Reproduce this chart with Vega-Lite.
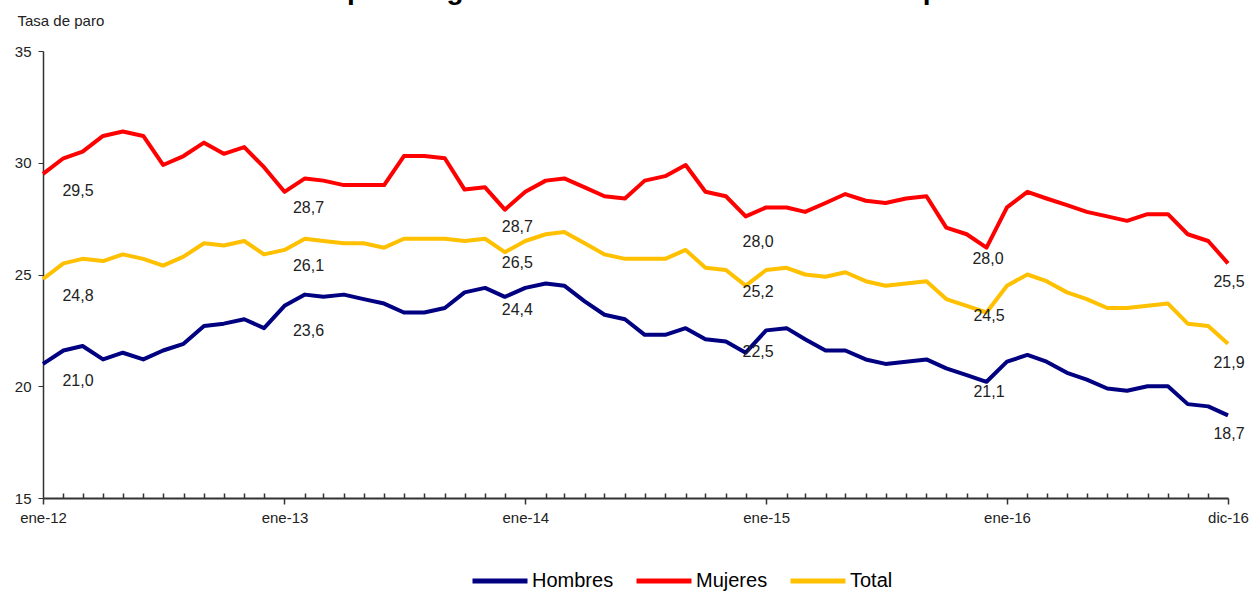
{
  "$schema": "https://vega.github.io/schema/vega-lite/v6.json",
  "width": 1185,
  "height": 447,
  "autosize": "none",
  "padding": {"left": 43, "top": 51, "right": 25, "bottom": 96},
  "background": "white",
  "config": {
    "view": {"stroke": null},
    "font": "Liberation Sans",
    "locale": {"number": {"decimal": ",", "thousands": ".", "grouping": [3], "currency": ["", " €"]}}
  },
  "title": {
    "text": "Tasa de paro según sexo. Evolución mensual en España",
    "anchor": "start",
    "frame": "group",
    "dx": 194,
    "fontSize": 28,
    "fontWeight": "bold",
    "font": "Liberation Sans",
    "color": "#000000",
    "offset": 8
  },
  "data": {
    "format": {"parse": {"fecha": "date"}},
    "values": [
      {"fecha": "2012-01-01", "serie": "Hombres", "tasa": 21.0},
      {"fecha": "2012-02-01", "serie": "Hombres", "tasa": 21.6},
      {"fecha": "2012-03-01", "serie": "Hombres", "tasa": 21.8},
      {"fecha": "2012-04-01", "serie": "Hombres", "tasa": 21.2},
      {"fecha": "2012-05-01", "serie": "Hombres", "tasa": 21.5},
      {"fecha": "2012-06-01", "serie": "Hombres", "tasa": 21.2},
      {"fecha": "2012-07-01", "serie": "Hombres", "tasa": 21.6},
      {"fecha": "2012-08-01", "serie": "Hombres", "tasa": 21.9},
      {"fecha": "2012-09-01", "serie": "Hombres", "tasa": 22.7},
      {"fecha": "2012-10-01", "serie": "Hombres", "tasa": 22.8},
      {"fecha": "2012-11-01", "serie": "Hombres", "tasa": 23.0},
      {"fecha": "2012-12-01", "serie": "Hombres", "tasa": 22.6},
      {"fecha": "2013-01-01", "serie": "Hombres", "tasa": 23.6},
      {"fecha": "2013-02-01", "serie": "Hombres", "tasa": 24.1},
      {"fecha": "2013-03-01", "serie": "Hombres", "tasa": 24.0},
      {"fecha": "2013-04-01", "serie": "Hombres", "tasa": 24.1},
      {"fecha": "2013-05-01", "serie": "Hombres", "tasa": 23.9},
      {"fecha": "2013-06-01", "serie": "Hombres", "tasa": 23.7},
      {"fecha": "2013-07-01", "serie": "Hombres", "tasa": 23.3},
      {"fecha": "2013-08-01", "serie": "Hombres", "tasa": 23.3},
      {"fecha": "2013-09-01", "serie": "Hombres", "tasa": 23.5},
      {"fecha": "2013-10-01", "serie": "Hombres", "tasa": 24.2},
      {"fecha": "2013-11-01", "serie": "Hombres", "tasa": 24.4},
      {"fecha": "2013-12-01", "serie": "Hombres", "tasa": 24.0},
      {"fecha": "2014-01-01", "serie": "Hombres", "tasa": 24.4},
      {"fecha": "2014-02-01", "serie": "Hombres", "tasa": 24.6},
      {"fecha": "2014-03-01", "serie": "Hombres", "tasa": 24.5},
      {"fecha": "2014-04-01", "serie": "Hombres", "tasa": 23.8},
      {"fecha": "2014-05-01", "serie": "Hombres", "tasa": 23.2},
      {"fecha": "2014-06-01", "serie": "Hombres", "tasa": 23.0},
      {"fecha": "2014-07-01", "serie": "Hombres", "tasa": 22.3},
      {"fecha": "2014-08-01", "serie": "Hombres", "tasa": 22.3},
      {"fecha": "2014-09-01", "serie": "Hombres", "tasa": 22.6},
      {"fecha": "2014-10-01", "serie": "Hombres", "tasa": 22.1},
      {"fecha": "2014-11-01", "serie": "Hombres", "tasa": 22.0},
      {"fecha": "2014-12-01", "serie": "Hombres", "tasa": 21.5},
      {"fecha": "2015-01-01", "serie": "Hombres", "tasa": 22.5},
      {"fecha": "2015-02-01", "serie": "Hombres", "tasa": 22.6},
      {"fecha": "2015-03-01", "serie": "Hombres", "tasa": 22.1},
      {"fecha": "2015-04-01", "serie": "Hombres", "tasa": 21.6},
      {"fecha": "2015-05-01", "serie": "Hombres", "tasa": 21.6},
      {"fecha": "2015-06-01", "serie": "Hombres", "tasa": 21.2},
      {"fecha": "2015-07-01", "serie": "Hombres", "tasa": 21.0},
      {"fecha": "2015-08-01", "serie": "Hombres", "tasa": 21.1},
      {"fecha": "2015-09-01", "serie": "Hombres", "tasa": 21.2},
      {"fecha": "2015-10-01", "serie": "Hombres", "tasa": 20.8},
      {"fecha": "2015-11-01", "serie": "Hombres", "tasa": 20.5},
      {"fecha": "2015-12-01", "serie": "Hombres", "tasa": 20.2},
      {"fecha": "2016-01-01", "serie": "Hombres", "tasa": 21.1},
      {"fecha": "2016-02-01", "serie": "Hombres", "tasa": 21.4},
      {"fecha": "2016-03-01", "serie": "Hombres", "tasa": 21.1},
      {"fecha": "2016-04-01", "serie": "Hombres", "tasa": 20.6},
      {"fecha": "2016-05-01", "serie": "Hombres", "tasa": 20.3},
      {"fecha": "2016-06-01", "serie": "Hombres", "tasa": 19.9},
      {"fecha": "2016-07-01", "serie": "Hombres", "tasa": 19.8},
      {"fecha": "2016-08-01", "serie": "Hombres", "tasa": 20.0},
      {"fecha": "2016-09-01", "serie": "Hombres", "tasa": 20.0},
      {"fecha": "2016-10-01", "serie": "Hombres", "tasa": 19.2},
      {"fecha": "2016-11-01", "serie": "Hombres", "tasa": 19.1},
      {"fecha": "2016-12-01", "serie": "Hombres", "tasa": 18.7},
      {"fecha": "2012-01-01", "serie": "Mujeres", "tasa": 29.5},
      {"fecha": "2012-02-01", "serie": "Mujeres", "tasa": 30.2},
      {"fecha": "2012-03-01", "serie": "Mujeres", "tasa": 30.5},
      {"fecha": "2012-04-01", "serie": "Mujeres", "tasa": 31.2},
      {"fecha": "2012-05-01", "serie": "Mujeres", "tasa": 31.4},
      {"fecha": "2012-06-01", "serie": "Mujeres", "tasa": 31.2},
      {"fecha": "2012-07-01", "serie": "Mujeres", "tasa": 29.9},
      {"fecha": "2012-08-01", "serie": "Mujeres", "tasa": 30.3},
      {"fecha": "2012-09-01", "serie": "Mujeres", "tasa": 30.9},
      {"fecha": "2012-10-01", "serie": "Mujeres", "tasa": 30.4},
      {"fecha": "2012-11-01", "serie": "Mujeres", "tasa": 30.7},
      {"fecha": "2012-12-01", "serie": "Mujeres", "tasa": 29.8},
      {"fecha": "2013-01-01", "serie": "Mujeres", "tasa": 28.7},
      {"fecha": "2013-02-01", "serie": "Mujeres", "tasa": 29.3},
      {"fecha": "2013-03-01", "serie": "Mujeres", "tasa": 29.2},
      {"fecha": "2013-04-01", "serie": "Mujeres", "tasa": 29.0},
      {"fecha": "2013-05-01", "serie": "Mujeres", "tasa": 29.0},
      {"fecha": "2013-06-01", "serie": "Mujeres", "tasa": 29.0},
      {"fecha": "2013-07-01", "serie": "Mujeres", "tasa": 30.3},
      {"fecha": "2013-08-01", "serie": "Mujeres", "tasa": 30.3},
      {"fecha": "2013-09-01", "serie": "Mujeres", "tasa": 30.2},
      {"fecha": "2013-10-01", "serie": "Mujeres", "tasa": 28.8},
      {"fecha": "2013-11-01", "serie": "Mujeres", "tasa": 28.9},
      {"fecha": "2013-12-01", "serie": "Mujeres", "tasa": 27.9},
      {"fecha": "2014-01-01", "serie": "Mujeres", "tasa": 28.7},
      {"fecha": "2014-02-01", "serie": "Mujeres", "tasa": 29.2},
      {"fecha": "2014-03-01", "serie": "Mujeres", "tasa": 29.3},
      {"fecha": "2014-04-01", "serie": "Mujeres", "tasa": 28.9},
      {"fecha": "2014-05-01", "serie": "Mujeres", "tasa": 28.5},
      {"fecha": "2014-06-01", "serie": "Mujeres", "tasa": 28.4},
      {"fecha": "2014-07-01", "serie": "Mujeres", "tasa": 29.2},
      {"fecha": "2014-08-01", "serie": "Mujeres", "tasa": 29.4},
      {"fecha": "2014-09-01", "serie": "Mujeres", "tasa": 29.9},
      {"fecha": "2014-10-01", "serie": "Mujeres", "tasa": 28.7},
      {"fecha": "2014-11-01", "serie": "Mujeres", "tasa": 28.5},
      {"fecha": "2014-12-01", "serie": "Mujeres", "tasa": 27.6},
      {"fecha": "2015-01-01", "serie": "Mujeres", "tasa": 28.0},
      {"fecha": "2015-02-01", "serie": "Mujeres", "tasa": 28.0},
      {"fecha": "2015-03-01", "serie": "Mujeres", "tasa": 27.8},
      {"fecha": "2015-04-01", "serie": "Mujeres", "tasa": 28.2},
      {"fecha": "2015-05-01", "serie": "Mujeres", "tasa": 28.6},
      {"fecha": "2015-06-01", "serie": "Mujeres", "tasa": 28.3},
      {"fecha": "2015-07-01", "serie": "Mujeres", "tasa": 28.2},
      {"fecha": "2015-08-01", "serie": "Mujeres", "tasa": 28.4},
      {"fecha": "2015-09-01", "serie": "Mujeres", "tasa": 28.5},
      {"fecha": "2015-10-01", "serie": "Mujeres", "tasa": 27.1},
      {"fecha": "2015-11-01", "serie": "Mujeres", "tasa": 26.8},
      {"fecha": "2015-12-01", "serie": "Mujeres", "tasa": 26.2},
      {"fecha": "2016-01-01", "serie": "Mujeres", "tasa": 28.0},
      {"fecha": "2016-02-01", "serie": "Mujeres", "tasa": 28.7},
      {"fecha": "2016-03-01", "serie": "Mujeres", "tasa": 28.4},
      {"fecha": "2016-04-01", "serie": "Mujeres", "tasa": 28.1},
      {"fecha": "2016-05-01", "serie": "Mujeres", "tasa": 27.8},
      {"fecha": "2016-06-01", "serie": "Mujeres", "tasa": 27.6},
      {"fecha": "2016-07-01", "serie": "Mujeres", "tasa": 27.4},
      {"fecha": "2016-08-01", "serie": "Mujeres", "tasa": 27.7},
      {"fecha": "2016-09-01", "serie": "Mujeres", "tasa": 27.7},
      {"fecha": "2016-10-01", "serie": "Mujeres", "tasa": 26.8},
      {"fecha": "2016-11-01", "serie": "Mujeres", "tasa": 26.5},
      {"fecha": "2016-12-01", "serie": "Mujeres", "tasa": 25.5},
      {"fecha": "2012-01-01", "serie": "Total", "tasa": 24.8},
      {"fecha": "2012-02-01", "serie": "Total", "tasa": 25.5},
      {"fecha": "2012-03-01", "serie": "Total", "tasa": 25.7},
      {"fecha": "2012-04-01", "serie": "Total", "tasa": 25.6},
      {"fecha": "2012-05-01", "serie": "Total", "tasa": 25.9},
      {"fecha": "2012-06-01", "serie": "Total", "tasa": 25.7},
      {"fecha": "2012-07-01", "serie": "Total", "tasa": 25.4},
      {"fecha": "2012-08-01", "serie": "Total", "tasa": 25.8},
      {"fecha": "2012-09-01", "serie": "Total", "tasa": 26.4},
      {"fecha": "2012-10-01", "serie": "Total", "tasa": 26.3},
      {"fecha": "2012-11-01", "serie": "Total", "tasa": 26.5},
      {"fecha": "2012-12-01", "serie": "Total", "tasa": 25.9},
      {"fecha": "2013-01-01", "serie": "Total", "tasa": 26.1},
      {"fecha": "2013-02-01", "serie": "Total", "tasa": 26.6},
      {"fecha": "2013-03-01", "serie": "Total", "tasa": 26.5},
      {"fecha": "2013-04-01", "serie": "Total", "tasa": 26.4},
      {"fecha": "2013-05-01", "serie": "Total", "tasa": 26.4},
      {"fecha": "2013-06-01", "serie": "Total", "tasa": 26.2},
      {"fecha": "2013-07-01", "serie": "Total", "tasa": 26.6},
      {"fecha": "2013-08-01", "serie": "Total", "tasa": 26.6},
      {"fecha": "2013-09-01", "serie": "Total", "tasa": 26.6},
      {"fecha": "2013-10-01", "serie": "Total", "tasa": 26.5},
      {"fecha": "2013-11-01", "serie": "Total", "tasa": 26.6},
      {"fecha": "2013-12-01", "serie": "Total", "tasa": 26.0},
      {"fecha": "2014-01-01", "serie": "Total", "tasa": 26.5},
      {"fecha": "2014-02-01", "serie": "Total", "tasa": 26.8},
      {"fecha": "2014-03-01", "serie": "Total", "tasa": 26.9},
      {"fecha": "2014-04-01", "serie": "Total", "tasa": 26.4},
      {"fecha": "2014-05-01", "serie": "Total", "tasa": 25.9},
      {"fecha": "2014-06-01", "serie": "Total", "tasa": 25.7},
      {"fecha": "2014-07-01", "serie": "Total", "tasa": 25.7},
      {"fecha": "2014-08-01", "serie": "Total", "tasa": 25.7},
      {"fecha": "2014-09-01", "serie": "Total", "tasa": 26.1},
      {"fecha": "2014-10-01", "serie": "Total", "tasa": 25.3},
      {"fecha": "2014-11-01", "serie": "Total", "tasa": 25.2},
      {"fecha": "2014-12-01", "serie": "Total", "tasa": 24.5},
      {"fecha": "2015-01-01", "serie": "Total", "tasa": 25.2},
      {"fecha": "2015-02-01", "serie": "Total", "tasa": 25.3},
      {"fecha": "2015-03-01", "serie": "Total", "tasa": 25.0},
      {"fecha": "2015-04-01", "serie": "Total", "tasa": 24.9},
      {"fecha": "2015-05-01", "serie": "Total", "tasa": 25.1},
      {"fecha": "2015-06-01", "serie": "Total", "tasa": 24.7},
      {"fecha": "2015-07-01", "serie": "Total", "tasa": 24.5},
      {"fecha": "2015-08-01", "serie": "Total", "tasa": 24.6},
      {"fecha": "2015-09-01", "serie": "Total", "tasa": 24.7},
      {"fecha": "2015-10-01", "serie": "Total", "tasa": 23.9},
      {"fecha": "2015-11-01", "serie": "Total", "tasa": 23.6},
      {"fecha": "2015-12-01", "serie": "Total", "tasa": 23.3},
      {"fecha": "2016-01-01", "serie": "Total", "tasa": 24.5},
      {"fecha": "2016-02-01", "serie": "Total", "tasa": 25.0},
      {"fecha": "2016-03-01", "serie": "Total", "tasa": 24.7},
      {"fecha": "2016-04-01", "serie": "Total", "tasa": 24.2},
      {"fecha": "2016-05-01", "serie": "Total", "tasa": 23.9},
      {"fecha": "2016-06-01", "serie": "Total", "tasa": 23.5},
      {"fecha": "2016-07-01", "serie": "Total", "tasa": 23.5},
      {"fecha": "2016-08-01", "serie": "Total", "tasa": 23.6},
      {"fecha": "2016-09-01", "serie": "Total", "tasa": 23.7},
      {"fecha": "2016-10-01", "serie": "Total", "tasa": 22.8},
      {"fecha": "2016-11-01", "serie": "Total", "tasa": 22.7},
      {"fecha": "2016-12-01", "serie": "Total", "tasa": 21.9}
    ]
  },
  "encoding": {
    "x": {
      "field": "fecha",
      "type": "temporal",
      "scale": {"type": "utc", "nice": false},
      "axis": {
        "title": null,
        "grid": false,
        "tickCount": {"interval": "month", "step": 1},
        "labelExpr": "utcmonth(datum.value) == 0 ? 'ene-' + substring(toString(utcyear(datum.value)), 2, 4) : ((utcmonth(datum.value) == 11 && utcyear(datum.value) == 2016) ? 'dic-16' : '')",
        "tickSize": {"condition": {"test": "utcmonth(datum.value) == 0 || (utcmonth(datum.value) == 11 && utcyear(datum.value) == 2016)", "value": 6}, "value": -5},
        "domainColor": "#333333",
        "domainWidth": 2,
        "tickColor": "#333333",
        "tickWidth": 1.5,
        "labelFontSize": 15,
        "labelColor": "#222222",
        "labelPadding": 6,
        "labelFlush": false,
        "labelOverlap": false,
        "labelAngle": 0
      }
    },
    "y": {
      "field": "tasa",
      "type": "quantitative",
      "scale": {"domain": [15, 35], "nice": false, "zero": false},
      "axis": {
        "title": "Tasa de paro",
        "titleAngle": 0,
        "titleAlign": "left",
        "titleBaseline": "alphabetic",
        "titleX": -26,
        "titleY": -26,
        "titleFontSize": 15,
        "titleFontWeight": "normal",
        "titleColor": "#222222",
        "values": [15, 20, 25, 30, 35],
        "grid": false,
        "tickSize": 5,
        "tickColor": "#333333",
        "domainColor": "#333333",
        "domainWidth": 1.5,
        "labelFontSize": 15,
        "labelPadding": 7,
        "labelColor": "#222222"
      }
    }
  },
  "layer": [
    {
      "mark": {"type": "line", "strokeWidth": 4, "strokeJoin": "round"},
      "encoding": {
        "color": {
          "field": "serie",
          "type": "nominal",
          "scale": {"domain": ["Hombres", "Mujeres", "Total"], "range": ["#000080", "#FF0000", "#FFC000"]},
          "legend": {
            "orient": "none",
            "legendX": 427,
            "legendY": 500,
            "direction": "horizontal",
            "title": null,
            "symbolType": "stroke",
            "symbolSize": 3025,
            "symbolStrokeWidth": 5,
            "labelFontSize": 20,
            "labelColor": "#000000",
            "columnPadding": 12,
            "labelOffset": 2
          }
        }
      }
    },
    {
      "transform": [{"filter": "utcyear(datum.fecha) == 2012 && utcmonth(datum.fecha) == 0"}],
      "mark": {"type": "text", "fontSize": 16, "color": "#222222", "dx": 35, "dy": 17},
      "encoding": {"text": {"field": "tasa", "type": "quantitative", "format": ".1f"}}
    },
    {
      "transform": [{"filter": "utcyear(datum.fecha) == 2013 && utcmonth(datum.fecha) == 0 && datum.serie == 'Hombres'"}],
      "mark": {"type": "text", "fontSize": 16, "color": "#222222", "dx": 24, "dy": 25},
      "encoding": {"text": {"field": "tasa", "type": "quantitative", "format": ".1f"}}
    },
    {
      "transform": [{"filter": "utcyear(datum.fecha) == 2013 && utcmonth(datum.fecha) == 0 && datum.serie != 'Hombres'"}],
      "mark": {"type": "text", "fontSize": 16, "color": "#222222", "dx": 24, "dy": 16},
      "encoding": {"text": {"field": "tasa", "type": "quantitative", "format": ".1f"}}
    },
    {
      "transform": [{"filter": "(utcyear(datum.fecha) == 2014 || utcyear(datum.fecha) == 2015) && utcmonth(datum.fecha) == 0 && datum.serie == 'Mujeres'"}],
      "mark": {"type": "text", "fontSize": 16, "color": "#222222", "dx": -8, "dy": 35},
      "encoding": {"text": {"field": "tasa", "type": "quantitative", "format": ".1f"}}
    },
    {
      "transform": [{"filter": "(utcyear(datum.fecha) == 2014 || utcyear(datum.fecha) == 2015) && utcmonth(datum.fecha) == 0 && datum.serie != 'Mujeres'"}],
      "mark": {"type": "text", "fontSize": 16, "color": "#222222", "dx": -8, "dy": 22},
      "encoding": {"text": {"field": "tasa", "type": "quantitative", "format": ".1f"}}
    },
    {
      "transform": [{"filter": "utcyear(datum.fecha) == 2016 && utcmonth(datum.fecha) == 0 && datum.serie == 'Mujeres'"}],
      "mark": {"type": "text", "fontSize": 16, "color": "#222222", "dx": -19, "dy": 52},
      "encoding": {"text": {"field": "tasa", "type": "quantitative", "format": ".1f"}}
    },
    {
      "transform": [{"filter": "utcyear(datum.fecha) == 2016 && utcmonth(datum.fecha) == 0 && datum.serie != 'Mujeres'"}],
      "mark": {"type": "text", "fontSize": 16, "color": "#222222", "dx": -18, "dy": 30},
      "encoding": {"text": {"field": "tasa", "type": "quantitative", "format": ".1f"}}
    },
    {
      "transform": [{"filter": "utcyear(datum.fecha) == 2016 && utcmonth(datum.fecha) == 11"}],
      "mark": {"type": "text", "fontSize": 16, "color": "#222222", "dx": 1, "dy": 19},
      "encoding": {"text": {"field": "tasa", "type": "quantitative", "format": ".1f"}}
    }
  ]
}
